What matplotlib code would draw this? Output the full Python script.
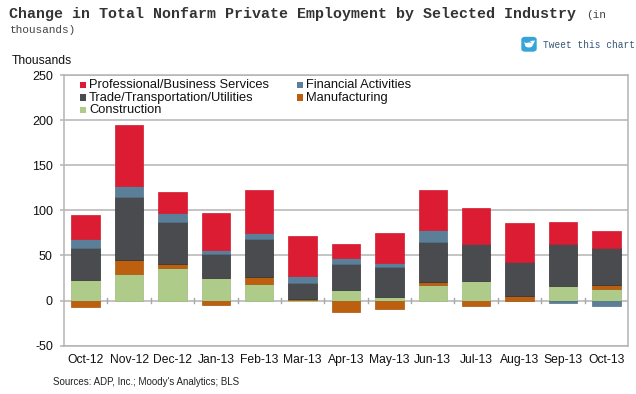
import matplotlib
matplotlib.use("Agg")
import matplotlib.pyplot as plt
from matplotlib.patches import FancyBboxPatch, Ellipse, Polygon, Rectangle

plt.rcParams["axes.unicode_minus"] = False

months = ["Oct-12", "Nov-12", "Dec-12", "Jan-13", "Feb-13", "Mar-13", "Apr-13",
          "May-13", "Jun-13", "Jul-13", "Aug-13", "Sep-13", "Oct-13"]
construction = [23, 29.5, 36.5, 25, 18.5, 1, 12, 4.5, 17.5, 21.5, -1, 16, 12.5]
manufacturing = [-7, 15, 4, -5, 8, 1, -12.5, -9, 3.3, -6, 5, -1, 5]
trade = [35.5, 70, 47, 27, 42, 17, 29, 33, 44.5, 41, 38, 47, 41]
financial = [9.6, 12, 9.5, 4.5, 6.5, 8.5, 6.7, 4.5, 13.3, 0, 0, -1.2, -6]
professional = [27, 68, 23, 40.7, 48, 44, 15, 33, 44.4, 40, 43, 24, 19]
yticks = [-50, 0, 50, 100, 150, 200, 250]

series = [
    ("Construction", construction, "#AECB8A", "#9DBB7A"),
    ("Manufacturing", manufacturing, "#BC5F0E", "#A8540C"),
    ("Trade/Transportation/Utilities", trade, "#4A4B4F", "#2E2F32"),
    ("Financial Activities", financial, "#5B7F99", "#4F7288"),
    ("Professional/Business Services", professional, "#DC1C33", "#D01A30"),
]

SANS = "Liberation Sans"
MONO = "Liberation Mono"
GRID = "#B4B4B4"
TXT = "#111111"

fig = plt.figure(figsize=(6.36, 3.94), dpi=100)
W, H = 636, 394
x0, x1, ytop, ybot = 64, 628, 75, 345.7
ax = fig.add_axes([x0 / W, 1 - ybot / H, (x1 - x0) / W, (ybot - ytop) / H])
ax.set_xlim(-0.5, 12.5)
ax.set_ylim(-50, 250)

xs = list(range(len(months)))
pos = [0.0] * len(months)
neg = [0.0] * len(months)
for name, vals, col, edge in series:
    bottoms = [pos[i] if v >= 0 else neg[i] for i, v in enumerate(vals)]
    ax.bar(xs, vals, 0.655, bottom=bottoms, color=col, edgecolor=edge, linewidth=0.5, zorder=3, label=name)
    for i, v in enumerate(vals):
        if v >= 0:
            pos[i] += v
        else:
            neg[i] += v

ax.set_axisbelow(True)
ax.yaxis.grid(True, color=GRID, linewidth=1.1, zorder=1)
ax.xaxis.grid(False)
for s in ax.spines.values():
    s.set_color(GRID)
    s.set_linewidth(1.1)
ax.set_yticks(yticks)
ax.tick_params(axis="y", length=3, width=1.1, color=GRID, pad=5, labelsize=9.0, labelcolor=TXT)
ax.tick_params(axis="x", length=0, pad=6.3, labelsize=8.7, labelcolor=TXT)
ax.set_xticks(xs)
ax.set_xticklabels(months)
for t in ax.get_xticklabels() + ax.get_yticklabels():
    t.set_fontfamily(SANS)

# zero line with category separators
ax.axhline(0, color="#C4C4C4", linewidth=1.1, zorder=2.5)
for i in range(1, len(months)):
    ax.plot([i - 0.5, i - 0.5], [-3, 3], color="#A8A8A8", linewidth=1.0, zorder=2.6)

# legend
leg_rows = [
    (0, 0, "Professional/Business Services", "#DC1C33"),
    (0, 1, "Trade/Transportation/Utilities", "#4A4B4F"),
    (0, 2, "Construction", "#AECB8A"),
    (1, 0, "Financial Activities", "#5B7F99"),
    (1, 1, "Manufacturing", "#BC5F0E"),
]
for c, r, label, col in leg_rows:
    xpx = 80 if c == 0 else 297
    ypx = 85 + r * 12.5
    fig.patches.append(Rectangle((xpx / W, 1 - (ypx + 3) / H), 6 / W, 6 / H, transform=fig.transFigure,
                                 facecolor=col, edgecolor="none", zorder=6))
    fig.text((xpx + 9) / W, 1 - ypx / H, label, fontfamily=SANS, fontsize=9.25, color=TXT, va="center", ha="left", zorder=7)

fig.text(12 / W, 1 - 60.5 / H, "Thousands", fontfamily=SANS, fontsize=8.7, color=TXT, va="center", ha="left")
fig.text(53 / W, 1 - 382 / H, "Sources: ADP, Inc.; Moody's Analytics; BLS", fontfamily=SANS, fontsize=7.05, color="#222222", va="center", ha="left")

# page title
fig.text(9 / W, 1 - 14 / H, "Change in Total Nonfarm Private Employment by Selected Industry",
         fontfamily=MONO, fontweight="bold", fontsize=10.8, color="#333333", va="center", ha="left")
fig.text(586 / W, 1 - 14.5 / H, "(in", fontfamily=MONO, fontsize=8, color="#444444", va="center", ha="left")
fig.text(10 / W, 1 - 30 / H, "thousands)", fontfamily=MONO, fontsize=8, color="#444444", va="center", ha="left")
fig.text(543 / W, 1 - 44.5 / H, "Tweet this chart", fontfamily=MONO, fontsize=6.85, color="#335577", va="center", ha="left")

# tweet icon
fig.patches.append(FancyBboxPatch((522 / W, 1 - 51 / H), 14 / W, 13.5 / H, boxstyle="round,pad=0,rounding_size=0.005",
                                  transform=fig.transFigure, facecolor="#35A5D8", edgecolor="#35A5D8", linewidth=1.0, zorder=5))
fig.patches.append(Ellipse((529 / W, 1 - 45 / H), 7.5 / W, 5 / H, angle=-15, transform=fig.transFigure, facecolor="white", edgecolor="none", zorder=6))
fig.patches.append(Polygon([(530 / W, 1 - 41 / H), (535 / W, 1 - 40.5 / H), (533 / W, 1 - 45 / H)], closed=True,
                           transform=fig.transFigure, facecolor="white", edgecolor="none", zorder=6))
fig.patches.append(Polygon([(524 / W, 1 - 42 / H), (528 / W, 1 - 44 / H), (526 / W, 1 - 47 / H)], closed=True,
                           transform=fig.transFigure, facecolor="white", edgecolor="none", zorder=6))

fig.savefig("out.png", dpi=100)
